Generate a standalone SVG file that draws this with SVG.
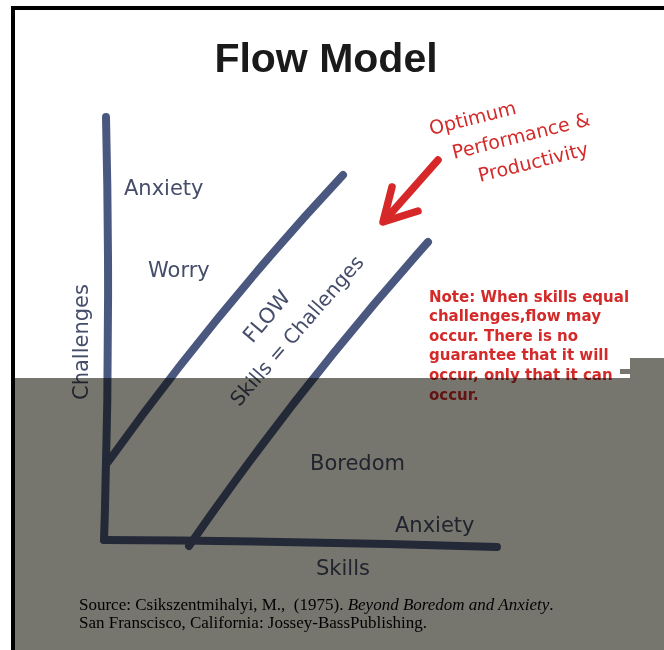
<svg xmlns="http://www.w3.org/2000/svg" width="664" height="650" viewBox="0 0 664 650">
<style>
.ax{fill:none;stroke:#4a5880;stroke-width:8;stroke-linecap:round;stroke-linejoin:round}
.lbl{font-family:"DejaVu Sans",sans-serif;font-size:21px;fill:#454d6a}
.red{font-family:"DejaVu Sans",sans-serif;font-size:19px;fill:#d42a2a}
.note{font-family:"DejaVu Sans",sans-serif;font-size:15px;font-weight:bold;fill:#d42a2a}
.src{font-family:"Liberation Serif",serif;font-size:17px;fill:#000;white-space:pre}
</style>
<rect x="0" y="0" width="664" height="650" fill="#fff"/>
<path d="M13,650 V8 H664" fill="none" stroke="#000" stroke-width="4"/>
<g id="title"><text x="326" y="72" text-anchor="middle" font-family="Liberation Sans,sans-serif" font-weight="bold" font-size="41" fill="#1a1a1a">Flow Model</text></g>
<g id="connectors">
<path class="ax" d="M106,117 Q111,330 104,540"/>
<path class="ax" d="M104,540 Q300,541 497,547"/>
<path class="ax" d="M108,462 Q216,311 343,175"/>
<path class="ax" d="M189,546 Q299,387 428,242"/>
<g fill="none" stroke="#d62828" stroke-width="7.5" stroke-linecap="round" stroke-linejoin="round">
<path d="M438,160 L385,220"/>
<path d="M392,187 L383,222 L418,211"/>
</g>
</g>
<g id="challenges"><text class="lbl" transform="translate(88,400) rotate(-90)">Challenges</text></g>
<g id="anxiety-top"><text class="lbl" x="124" y="195">Anxiety</text></g>
<g id="worry"><text class="lbl" x="148" y="277">Worry</text></g>
<g id="flow"><text class="lbl" transform="translate(272,321) rotate(-50)" text-anchor="middle">FLOW</text></g>
<g id="skills-eq"><text class="lbl" style="font-size:20px" transform="translate(302,335) rotate(-49)" text-anchor="middle">Skills = Challenges</text></g>
<g id="optimum">
<text class="red" transform="translate(431,135) rotate(-14)">Optimum</text>
<text class="red" transform="translate(454,159) rotate(-14)">Performance &amp;</text>
<text class="red" transform="translate(480,182) rotate(-14)">Productivity</text>
</g>
<g id="note">
<text class="note" x="429" y="302">Note: When skills equal</text>
<text class="note" x="429" y="321">challenges,flow may</text>
<text class="note" x="429" y="341">occur. There is no</text>
<text class="note" x="429" y="360">guarantee that it will</text>
<text class="note" x="429" y="380">occur, only that it can</text>
<text class="note" x="429" y="400">occur.</text>
</g>
<g id="boredom"><text class="lbl" x="310" y="470">Boredom</text></g>
<g id="anxiety-bottom"><text class="lbl" x="395" y="532">Anxiety</text></g>
<g id="skills"><text class="lbl" x="316" y="575">Skills</text></g>
<g id="source">
<text class="src" x="79" y="610">Source: Csikszentmihalyi, M.,  (1975). <tspan font-style="italic">Beyond Boredom and Anxiety</tspan>.</text>
<text class="src" x="79" y="628">San Franscisco, California: Jossey-BassPublishing.</text>
</g>
<g id="overlay" style="mix-blend-mode:multiply">
<path d="M15,378 H630 V358 H664 V650 H15 Z" fill="#76766e"/>
<rect x="620" y="369" width="10" height="5" fill="#76766e"/>
</g>
</svg>
